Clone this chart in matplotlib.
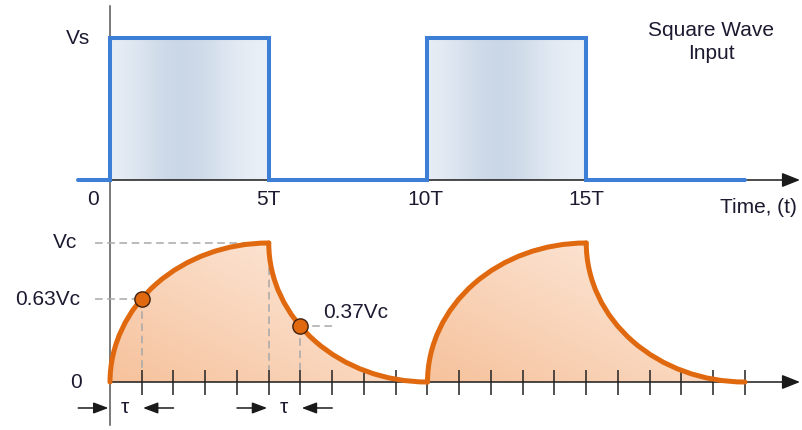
import matplotlib.pyplot as plt
import numpy as np
from matplotlib.patches import Arc, Ellipse, Rectangle

plt.rcParams['font.family'] = ['Liberation Sans', 'DejaVu Sans']

# square wave input, time in units of T
sq_time = [-1, 0, 5, 10, 15, 20]
sq_level = [0, 1, 0, 1, 0, 0]
pulse_starts = [0, 10]
pulse_width = 5
time_labels = ['0', '5T', '10T', '15T']
time_label_pos = [-0.54, 5, 9.95, 15]

# capacitor voltage (charge / discharge), Vc = 1
period_starts = [0, 10]
half_period = 5
vc = 1.0
tick_times = list(range(1, 21))
dot_times = [1, 6]
dot_levels = [0.60, 0.40]

blue = '#3d7fd6'
orange = '#e0690f'
txt = '#1c1a30'
fs = 15

# pixel layout of the drawing
W, H = 803, 430
px_tau = 31.75
x_org = 110
xlim = (-x_org / px_tau, (W - x_org) / px_tau)
x_tip = (800 - x_org) / px_tau

fig = plt.figure(figsize=(W / 100, H / 100), dpi=100)
ax1 = fig.add_axes([0, 0, 1, 1])
ax2 = fig.add_axes([0, 0, 1, 1])
for ax in (ax1, ax2):
    ax.axis('off')

arrow_main = dict(arrowstyle='-|>,head_length=0.55,head_width=0.22', mutation_scale=20,
                  color='#1a1a1a', lw=1.1, shrinkA=0, shrinkB=0)
arrow_tau = dict(arrowstyle='-|>,head_length=0.45,head_width=0.17', mutation_scale=20,
                 color='#1a1a1a', lw=1.1, shrinkA=0, shrinkB=0)

################
# Square wave  #
################
prof = np.linspace(0, 1, 200)
shade = np.exp(-((prof - 0.45) / 0.32) ** 2)
b_light = np.array([0.925, 0.945, 0.970])
b_dark = np.array([0.795, 0.845, 0.905])
blue_img = (b_light + (b_dark - b_light) * shade[:, None])[None, :, :]
for s in pulse_starts:
    ax1.imshow(blue_img, extent=[s, s + pulse_width, 0, 1], aspect='auto',
               interpolation='bilinear', zorder=1)

ax1.annotate('', xy=(x_tip, 0), xytext=(0, 0), arrowprops=arrow_main, zorder=2)
ax1.step(sq_time, sq_level, where='post', color=blue, lw=2.9, zorder=3,
         solid_joinstyle='miter', solid_capstyle='round')
ax1.axvline(0, ymin=5 / H, ymax=(H - 6) / H, color='#555555', lw=1.1, zorder=2)

ax1.text(-0.63, 1, 'Vs', ha='right', va='center', fontsize=fs, color=txt)
for lab, p in zip(time_labels, time_label_pos):
    ax1.text(p, -0.14, lab, ha='center', va='center', fontsize=fs, color=txt)
ax1.text(21.64, -0.197, 'Time, (t)', ha='right', va='center', fontsize=fs, color=txt)
ax1.text(18.93, 0.97, 'Square Wave\nInput', ha='center', va='center', fontsize=fs,
         color=txt, linespacing=1.25)

######################
# Capacitor voltage  #
######################
gx, gy = np.meshgrid(np.linspace(0, 1, 300), np.linspace(0, 1, 100))
d = 0.55 * (1 - gx) + 0.45 * (1 - gy)
o_dark = np.array([0.965, 0.760, 0.610])
o_light = np.array([0.995, 0.935, 0.895])
orange_img = o_light + (o_dark - o_light) * d[..., None]

for s in period_starts:
    im1 = ax2.imshow(orange_img[:, :150], extent=[s, s + half_period, 0, vc], origin='lower',
                     aspect='auto', interpolation='bilinear', zorder=1.6)
    im1.set_clip_path(Ellipse((s + half_period, 0), 2 * half_period, 2 * vc,
                              transform=ax2.transData))
    ax2.imshow(orange_img[:, 150:], extent=[s + half_period, s + 2 * half_period, 0, vc],
               origin='lower', aspect='auto', interpolation='bilinear', zorder=1)
    # white out the part above the discharge curve
    cover = Ellipse((s + 2 * half_period, vc), 2 * half_period, 2 * vc,
                    facecolor='white', edgecolor='none', zorder=1.5)
    ax2.add_patch(cover)
    cover.set_clip_path(Rectangle((s + half_period, 0), half_period + 0.15, vc + 0.05,
                                  transform=ax2.transData))

    ax2.add_patch(Arc((s + half_period, 0), 2 * half_period, 2 * vc, theta1=90, theta2=180,
                      color=orange, lw=3.6, capstyle='round', zorder=4))
    ax2.add_patch(Arc((s + 2 * half_period, vc), 2 * half_period, 2 * vc, theta1=180,
                      theta2=270, color=orange, lw=3.6, capstyle='round', zorder=4))

ax2.annotate('', xy=(x_tip, 0), xytext=(0, 0), arrowprops=arrow_main, zorder=3)
ax2.vlines(tick_times, -0.094, 0.086, color='#222222', lw=1.1, zorder=3)

dash = dict(color='#a8a8a8', lw=1.1, ls=(0, (5, 3)), zorder=2.5)
ax2.plot([-0.47, half_period], [vc, vc], **dash)
ax2.plot([half_period, half_period], [vc, 0.086], **dash)
ax2.plot([-0.47, dot_times[0]], [dot_levels[0]] * 2, **dash)
ax2.plot([dot_times[0]] * 2, [dot_levels[0], 0.086], **dash)
ax2.plot([dot_times[1], 7.05], [dot_levels[1]] * 2, **dash)
ax2.plot([dot_times[1]] * 2, [dot_levels[1], 0.086], **dash)

ax2.plot(dot_times, dot_levels, 'o', ms=11, mfc=orange, mec='#402010', mew=1, zorder=5)

ax2.text(-1.04, vc, 'Vc', ha='right', va='center', fontsize=fs, color=txt)
ax2.text(-0.94, 0.59, '0.63Vc', ha='right', va='center', fontsize=fs, color=txt)
ax2.text(6.71, 0.50, '0.37Vc', ha='left', va='center', fontsize=fs, color=txt)
ax2.text(-0.88, 0, '0', ha='right', va='center', fontsize=fs, color=txt)

ya = -0.187
for a in (0, half_period):
    ax2.annotate('', xy=(a - 0.05, ya), xytext=(a - 1, ya), arrowprops=arrow_tau)
    ax2.annotate('', xy=(a + 1.04, ya), xytext=(a + 2, ya), arrowprops=arrow_tau)
    ax2.text(a + 0.47, ya, 'τ', ha='center', va='center', fontsize=fs, color=txt)

ax1.set_xlim(*xlim)
ax1.set_ylim((180 - H) / 142, 180 / 142)
ax2.set_xlim(*xlim)
ax2.set_ylim((382 - H) / 139, 382 / 139)

fig.savefig('out.png', dpi=100)
